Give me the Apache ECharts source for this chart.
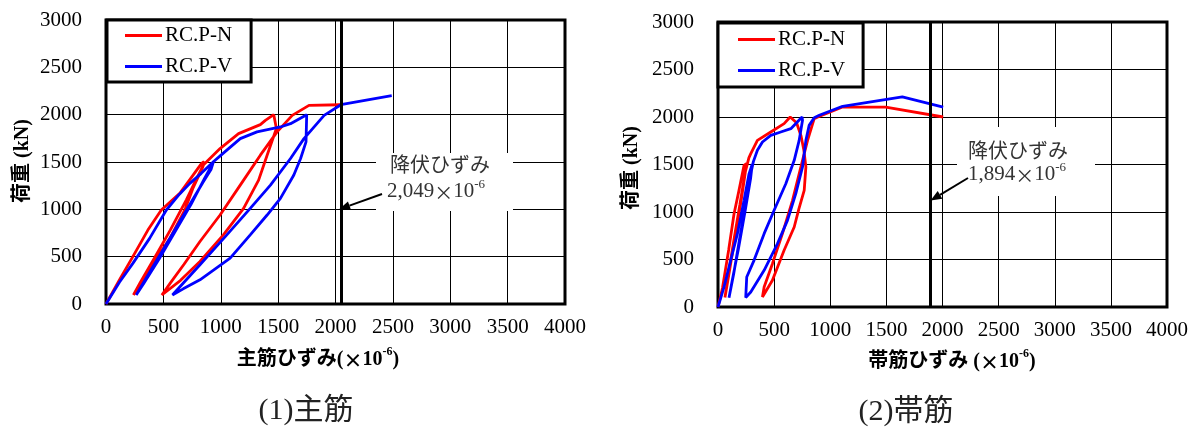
<!DOCTYPE html>
<html>
<head>
<meta charset="utf-8">
<script src="https://cdn.jsdelivr.net/npm/echarts@6.0.0/dist/echarts.min.js"></script>
<style>
html, body { margin: 0; padding: 0; background: #fff; }
#chart { width: 1201px; height: 431px; }
</style>
</head>
<body>
<div id="chart"></div>
<script>
// Axis ranges and tick steps (strain ×10^-6, load kN)
const strainTicks = [0, 500, 1000, 1500, 2000, 2500, 3000, 3500, 4000];
const loadTicks = [0, 500, 1000, 1500, 2000, 2500, 3000];
const seriesNames = ['RC.P-N', 'RC.P-V'];

// Yield strains (×10^-6)
const mainYield = 2049;
const hoopYield = 1894;

// (1) 主筋: [strain, load]
const mainN = [
  [0, 0], [117, 253], [234, 500], [365, 781], [482, 993], [643, 1169], [740, 1330], [833, 1485], [854, 1503],
  [845, 1450], [760, 1230], [687, 993], [560, 700], [400, 400], [239, 95],
  [300, 230], [420, 480], [560, 780], [700, 1100], [800, 1350], [850, 1470], [877, 1502],
  [994, 1642], [1155, 1800], [1345, 1895], [1389, 1940], [1462, 2000],
  [1485, 1853], [1404, 1572], [1330, 1309], [1199, 1010], [1023, 730], [819, 449], [650, 250], [487, 95],
  [560, 220], [680, 420], [819, 660], [994, 940], [1170, 1256], [1345, 1572], [1491, 1818], [1623, 1993], [1769, 2098], [2040, 2105]
];
const mainV = [
  [0, 0], [117, 230], [234, 429], [380, 693], [526, 993], [640, 1160], [731, 1274], [830, 1380], [936, 1503],
  [915, 1420], [848, 1292], [702, 993], [556, 693], [409, 394], [263, 95],
  [330, 220], [460, 470], [600, 760], [740, 1050], [860, 1330], [920, 1460], [936, 1502],
  [1000, 1570], [1053, 1625], [1170, 1747], [1316, 1818], [1520, 1870], [1608, 1905], [1749, 2000],
  [1743, 1712], [1696, 1537], [1637, 1362], [1520, 1116], [1404, 940], [1257, 730], [1082, 484], [819, 256], [673, 160], [579, 95],
  [680, 230], [819, 414], [1053, 730], [1257, 1010], [1433, 1256], [1608, 1537], [1725, 1747], [1901, 1993], [2047, 2105], [2490, 2200]
];

// (2) 帯筋: [strain, load]
const hoopN = [
  [0, 0], [40, 200], [95, 600], [143, 982], [187, 1228], [232, 1491], [253, 1509],
  [240, 1400], [195, 1080], [145, 730], [100, 400], [62, 100],
  [105, 400], [155, 760], [205, 1110], [245, 1430], [275, 1570],
  [292, 1614], [351, 1754], [470, 1842], [589, 1930], [643, 2000],
  [700, 1940], [740, 1800], [765, 1650], [783, 1474], [768, 1228], [720, 1030], [679, 842], [589, 597], [485, 281], [396, 105],
  [411, 211], [485, 456], [574, 772], [664, 1123], [738, 1474], [798, 1754], [857, 1982], [900, 2005], [1110, 2105], [1494, 2105], [2006, 2000]
];
const hoopV = [
  [0, 0], [54, 211], [113, 491], [173, 772], [232, 1123], [277, 1404], [305, 1502],
  [290, 1350], [240, 1000], [180, 600], [130, 300], [98, 98],
  [140, 350], [190, 700], [250, 1100], [295, 1420], [315, 1530],
  [351, 1649], [396, 1737], [470, 1807], [559, 1842], [649, 1877], [749, 2000],
  [753, 1965], [723, 1754], [679, 1544], [604, 1298], [500, 1018], [411, 772], [321, 491], [256, 316], [247, 98],
  [292, 158], [411, 386], [530, 667], [619, 912], [693, 1193], [753, 1474], [783, 1754], [812, 1912], [857, 1993], [902, 2018], [1110, 2113], [1642, 2211], [2006, 2105]
];

const SERIF = "'Liberation Serif', 'Times New Roman', 'Noto Sans CJK JP', serif";
const CJK = "'Noto Sans CJK JP', sans-serif";
const RED = '#ff0000';
const BLUE = '#0000ff';

function step(ticks) { return ticks[1] - ticks[0]; }
function plain(v) { return String(v); }

function xAxisFor(i) {
  return {
    gridIndex: i, type: 'value',
    min: strainTicks[0], max: strainTicks[strainTicks.length - 1], interval: step(strainTicks),
    axisLine: { show: false }, axisTick: { show: false },
    splitLine: { show: true, lineStyle: { color: '#000', width: 1 } },
    axisLabel: { color: '#000', fontFamily: SERIF, fontSize: 21, margin: 13, formatter: plain,
                 showMinLabel: true, showMaxLabel: true, hideOverlap: false }
  };
}
function yAxisFor(i) {
  return {
    gridIndex: i, type: 'value',
    min: loadTicks[0], max: loadTicks[loadTicks.length - 1], interval: step(loadTicks),
    axisLine: { show: false }, axisTick: { show: false },
    splitLine: { show: true, lineStyle: { color: '#000', width: 1 } },
    axisLabel: { color: '#000', fontFamily: SERIF, fontSize: 21, margin: 24, formatter: plain,
                 showMinLabel: true, showMaxLabel: true }
  };
}
function curve(name, data, color, i, yieldValue) {
  const s = {
    type: 'line', name: name, data: data, xAxisIndex: i, yAxisIndex: i,
    symbol: 'none', smooth: false, animation: false, z: 3,
    lineStyle: { color: color, width: 2.8 }, itemStyle: { color: color }
  };
  if (yieldValue !== undefined) {
    s.markLine = {
      silent: true, animation: false, symbol: ['none', 'none'],
      label: { show: false },
      lineStyle: { color: '#000', width: 3, type: 'solid' },
      data: [{ xAxis: yieldValue }]
    };
  }
  return s;
}
function legendFor(left, top, padding, gap) {
  return {
    data: seriesNames.map(function (n) { return { name: n, icon: 'rect' }; }),
    orient: 'vertical', left: left, top: top,
    padding: padding, itemGap: gap, itemWidth: 37, itemHeight: 3,
    selectedMode: false, backgroundColor: '#fff', borderColor: '#000', borderWidth: 3, borderRadius: 0,
    textStyle: { color: '#000', fontFamily: SERIF, fontSize: 21, lineHeight: 21, padding: [0, 0, 0, -2] }
  };
}

const chart = echarts.init(document.getElementById('chart'), null, { renderer: 'canvas' });

chart.setOption({
  animation: false,
  backgroundColor: '#fff',
  grid: [
    { left: 106, top: 20, width: 459, height: 284, show: true, borderColor: '#000', borderWidth: 3, backgroundColor: 'transparent', containLabel: false, outerBoundsMode: 'none' },
    { left: 718, top: 22, width: 449, height: 285, show: true, borderColor: '#000', borderWidth: 3, backgroundColor: 'transparent', containLabel: false, outerBoundsMode: 'none' }
  ],
  xAxis: [xAxisFor(0), xAxisFor(1)],
  yAxis: [yAxisFor(0), yAxisFor(1)],
  legend: [
    legendFor(107, 20, [5, 19, 5, 18], 10),
    legendFor(718, 23, [6, 18, 6, 20], 10)
  ],
  series: [
    curve(seriesNames[0], mainN, RED, 0, mainYield),
    curve(seriesNames[1], mainV, BLUE, 0),
    curve(seriesNames[0], hoopN, RED, 1, hoopYield),
    curve(seriesNames[1], hoopV, BLUE, 1)
  ]
});

// Annotation: white label box, two-line text and an arrow pointing to the yield line
function arrow(from, to) {
  const dx = to[0] - from[0], dy = to[1] - from[1];
  const len = Math.sqrt(dx * dx + dy * dy);
  const ux = dx / len, uy = dy / len;
  const hl = 11, hw = 4.5;
  const bx = to[0] - ux * hl, by = to[1] - uy * hl;
  return [
    { type: 'line', z: 20, shape: { x1: from[0], y1: from[1], x2: bx, y2: by }, style: { stroke: '#000', lineWidth: 2 } },
    { type: 'polygon', z: 20, shape: { points: [[to[0], to[1]], [bx - uy * hw, by + ux * hw], [bx + uy * hw, by - ux * hw]] }, style: { fill: '#000' } }
  ];
}
function yieldLabel(box, line1Pos, line2Pos, valueText, from, to) {
  return [
    { type: 'rect', z: 10, shape: { x: box[0], y: box[1], width: box[2], height: box[3] }, style: { fill: '#fff' } },
    { type: 'text', z: 21, x: line1Pos[0], y: line1Pos[1],
      style: { text: '降伏ひずみ', fill: '#333', font: '20px ' + CJK, textAlign: 'center', textVerticalAlign: 'middle' } },
    { type: 'text', z: 21, x: line2Pos[0], y: line2Pos[1],
      style: {
        text: '{a|' + valueText + '}{x|×}{a|10}{s|-6}',
        textAlign: 'left', textVerticalAlign: 'middle',
        rich: {
          a: { fontFamily: SERIF, fontSize: 21, fill: '#333', lineHeight: 24, verticalAlign: 'bottom' },
          x: { fontFamily: CJK, fontSize: 19, fill: '#333', lineHeight: 24, verticalAlign: 'bottom' },
          s: { fontFamily: SERIF, fontSize: 13, fill: '#333', lineHeight: 24, verticalAlign: 'top' }
        }
      } }
  ].concat(arrow(from, to));
}
function axisTitle(x, y, text, rotated) {
  return {
    type: 'text', z: 21, x: x, y: y, rotation: rotated ? Math.PI / 2 : 0,
    style: {
      text: text, textAlign: 'center', textVerticalAlign: 'middle',
      rich: {
        t: { fontFamily: SERIF, fontSize: 20, fontWeight: 'bold', fill: '#000', lineHeight: 24, verticalAlign: 'bottom' },
        x: { fontFamily: CJK, fontSize: 19, fontWeight: 'bold', fill: '#000', lineHeight: 24, verticalAlign: 'bottom' },
        s: { fontFamily: SERIF, fontSize: 12, fontWeight: 'bold', fill: '#000', lineHeight: 24, verticalAlign: 'top' }
      }
    }
  };
}
function caption(x, y, text) {
  return { type: 'text', z: 21, x: x, y: y,
    style: { text: text, fill: '#222', font: '30px ' + SERIF, textAlign: 'center', textVerticalAlign: 'middle' } };
}

const tipL = chart.convertToPixel({ gridIndex: 0 }, [mainYield, 1000]);
const tipR = chart.convertToPixel({ gridIndex: 1 }, [hoopYield, 1120]);

chart.setOption({
  graphic: [].concat(
    yieldLabel([376, 153, 137, 58], [440, 164], [387, 190], '2,049', [382, 194], [tipL[0] - 2, tipL[1]]),
    yieldLabel([957, 127, 138, 69], [1018, 150], [968, 173], '1,894', [968, 178], [tipR[0], tipR[1]]),
    [
      axisTitle(318, 358, '{t|主筋ひずみ(}{x|×}{t|10}{s|-6}{t|)}', false),
      axisTitle(952, 360, '{t|帯筋ひずみ (}{x|×}{t|10}{s|-6}{t|)}', false),
      axisTitle(21, 161, '{t|荷重 (kN)}', true),
      axisTitle(630, 168, '{t|荷重 (kN)}', true),
      caption(306, 411, '(1)主筋'),
      caption(906, 412, '(2)帯筋')
    ]
  )
});
</script>
</body>
</html>
